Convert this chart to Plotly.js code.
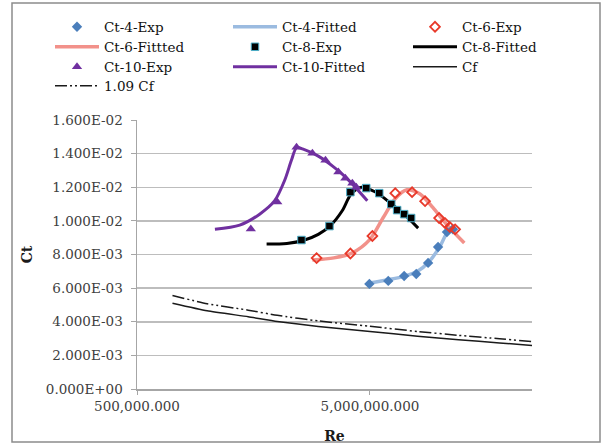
<!DOCTYPE html>
<html>
<head>
<meta charset="utf-8">
<script src="https://cdn.plot.ly/plotly-3.0.1.min.js"></script>
<style>
  html, body { margin: 0; padding: 0; background: #fff; }
  #chart { width: 611px; height: 448px; }
</style>
</head>
<body>
<div id="chart"></div>
<script>
// Thrust coefficient Ct against Reynolds number, measured and fitted, with friction lines.

// Ct-4
const re4Exp = [4.97e6, 5.99e6, 7.01e6, 7.9e6, 8.88e6, 9.8e6, 1.07e7, 1.135e7];
const ct4Exp = [6.25e-3, 6.43e-3, 6.72e-3, 6.84e-3, 7.5e-3, 8.45e-3, 9.34e-3, 9.5e-3];
const re4Fit = [4.97e6, 6.0e6, 7.0e6, 8.0e6, 9.0e6, 1.0e7, 1.07e7, 1.14e7];
const ct4Fit = [6.3e-3, 6.5e-3, 6.7e-3, 7.0e-3, 7.6e-3, 8.5e-3, 9.3e-3, 9.7e-3];

// Ct-6
const re6Exp = [2.95e6, 4.12e6, 5.12e6, 6.42e6, 7.58e6, 8.62e6, 9.9e6, 1.05e7, 1.10e7, 1.16e7];
const ct6Exp = [7.79e-3, 8.06e-3, 9.10e-3, 1.165e-2, 1.171e-2, 1.117e-2, 1.017e-2, 9.87e-3, 9.64e-3, 9.5e-3];
const re6Fit = [2.83e6, 3.5e6, 4.2e6, 5.0e6, 5.7e6, 6.4e6, 7.2e6, 8.2e6, 9.3e6, 1.05e7, 1.27e7];
const ct6Fit = [7.67e-3, 7.8e-3, 8.1e-3, 8.9e-3, 1.02e-2, 1.13e-2, 1.185e-2, 1.16e-2, 1.08e-2, 9.9e-3, 8.68e-3];

// Ct-8
const re8Exp = [2.54e6, 3.35e6, 4.12e6, 4.82e6, 5.48e6, 6.17e6, 6.54e6, 7.01e6, 7.51e6];
const ct8Exp = [8.86e-3, 9.69e-3, 1.171e-2, 1.195e-2, 1.165e-2, 1.10e-2, 1.064e-2, 1.04e-2, 1.017e-2];
const re8Fit = [1.8e6, 2.2e6, 2.6e6, 3.0e6, 3.4e6, 3.8e6, 4.15e6, 4.6e6, 5.3e6, 6.2e6, 7.0e6, 8.05e6];
const ct8Fit = [8.62e-3, 8.66e-3, 8.85e-3, 9.2e-3, 9.75e-3, 1.06e-2, 1.16e-2, 1.2e-2, 1.17e-2, 1.10e-2, 1.04e-2, 9.57e-3];

// Ct-10
const re10Exp = [1.54e6, 2.0e6, 2.42e6, 2.83e6, 3.22e6, 3.66e6, 3.92e6, 4.2e6, 4.37e6];
const ct10Exp = [9.51e-3, 1.112e-2, 1.438e-2, 1.402e-2, 1.36e-2, 1.29e-2, 1.253e-2, 1.224e-2, 1.2e-2];
const re10Fit = [1.08e6, 1.38e6, 1.68e6, 1.95e6, 2.15e6, 2.3e6, 2.42e6, 2.6e6, 3.0e6, 3.5e6, 4.0e6, 4.87e6];
const ct10Fit = [9.5e-3, 9.75e-3, 1.04e-2, 1.12e-2, 1.24e-2, 1.36e-2, 1.435e-2, 1.425e-2, 1.385e-2, 1.32e-2, 1.25e-2, 1.12e-2];

// Friction lines
const reCf = [7.1e5, 1.0e6, 1.5e6, 2.0e6, 3.0e6, 5.0e6, 8.0e6, 1.2e7, 1.8e7, 2.48e7];
const cf = [5.1e-3, 4.65e-3, 4.3e-3, 4.02e-3, 3.72e-3, 3.42e-3, 3.14e-3, 2.93e-3, 2.74e-3, 2.59e-3];
const cf109 = [5.56e-3, 5.07e-3, 4.69e-3, 4.38e-3, 4.05e-3, 3.73e-3, 3.42e-3, 3.19e-3, 2.99e-3, 2.82e-3];

// Axis ticks
const xTickVals = [5e5, 5e6];
const xTickText = ['500,000.000', '5,000,000.000'];
const yTickVals = [0, 0.002, 0.004, 0.006, 0.008, 0.010, 0.012, 0.014, 0.016];
const yTickText = ['0.000E+00', '2.000E-03', '4.000E-03', '6.000E-03', '8.000E-03',
                   '1.000E-02', '1.200E-02', '1.400E-02', '1.600E-02'];

const FONT = 'DejaVu Serif, serif';

// Plot area: x 137..532, y 120..389 (px)
const L = 137, R = 79, T = 120, B = 59, W = 611, H = 448;
const pw = W - L - R, ph = H - T - B;
const px2x = p => (p - L) / pw;
const py2y = p => (H - B - p) / ph;

// Legend grid: three columns, four rows, each entry its own small legend
const legendColX = [50, 228, 408];
const legendRowY = [27, 47, 67, 86];
const legends = {};
let legendCount = 0;
function legendAt(col, row) {
  legendCount += 1;
  const key = legendCount === 1 ? 'legend' : 'legend' + legendCount;
  legends[key] = {
    orientation: 'v', xanchor: 'left', yanchor: 'middle',
    x: px2x(legendColX[col]), y: py2y(legendRowY[row]),
    bgcolor: 'rgba(0,0,0,0)', borderwidth: 0,
    font: { family: FONT, size: 13.5, color: '#111111' },
    itemwidth: 44, itemclick: false
  };
  return key;
}

function fitted(name, x, y, color, width, col, row) {
  return { type: 'scatter', mode: 'lines', name, x, y, legend: legendAt(col, row),
           line: { color, width, shape: 'spline', smoothing: 0.8 } };
}
function measured(name, x, y, marker, col, row) {
  return { type: 'scatter', mode: 'markers', name, x, y, legend: legendAt(col, row), marker };
}

const traces = [
  { type: 'scatter', mode: 'lines', name: 'Cf', x: reCf, y: cf, legend: legendAt(2, 2),
    line: { color: '#1a1a1a', width: 1.5, shape: 'spline', smoothing: 0.5 } },
  { type: 'scatter', mode: 'lines', name: '1.09 Cf', x: reCf, y: cf109, legend: legendAt(0, 3),
    line: { color: '#1a1a1a', width: 1.5, shape: 'spline', smoothing: 0.5, dash: '12px,3px,2px,3px,2px,3px' } },
  fitted('Ct-4-Fitted', re4Fit, ct4Fit, '#9bbbe0', 3.5, 1, 0),
  fitted('Ct-6-Fittted', re6Fit, ct6Fit, '#f2918a', 3.5, 0, 1),
  fitted('Ct-8-Fitted', re8Fit, ct8Fit, '#000000', 3, 2, 1),
  fitted('Ct-10-Fitted', re10Fit, ct10Fit, '#7030a0', 3, 1, 2),
  measured('Ct-4-Exp', re4Exp, ct4Exp,
    { symbol: 'diamond', size: 8, color: '#4a7ebb', line: { width: 0 } }, 0, 0),
  measured('Ct-6-Exp', re6Exp, ct6Exp,
    { symbol: 'diamond-open', size: 7.5, color: '#e8392a', line: { width: 1.8, color: '#e8392a' } }, 2, 0),
  measured('Ct-8-Exp', re8Exp, ct8Exp,
    { symbol: 'square', size: 7.5, color: '#000000', line: { width: 1, color: '#4bacc6' } }, 1, 1),
  measured('Ct-10-Exp', re10Exp, ct10Exp,
    { symbol: 'triangle-up', size: 9, color: '#7030a0', line: { width: 0 } }, 0, 2),
];

const layout = Object.assign({
  width: W, height: H,
  margin: { l: L, r: R, t: T, b: B, autoexpand: false },
  paper_bgcolor: '#ffffff', plot_bgcolor: '#ffffff',
  font: { family: FONT, color: '#404040' },
  xaxis: {
    type: 'log', range: [Math.log10(5e5), Math.log10(2.48e7)],
    tickvals: xTickVals, ticktext: xTickText,
    ticks: 'outside', ticklen: 4, tickcolor: '#a6a6a6', tickwidth: 1,
    showline: true, linecolor: '#a6a6a6', linewidth: 1.5,
    showgrid: false, zeroline: false,
    tickfont: { family: FONT, size: 13.5, color: '#404040' },
    title: { text: '<b>Re</b>', font: { family: FONT, size: 14, color: '#1a1a1a' }, standoff: 18 },
    automargin: false
  },
  yaxis: {
    range: [0, 0.016],
    tickvals: yTickVals, ticktext: yTickText,
    ticks: 'outside', ticklen: 5, tickcolor: '#a6a6a6', tickwidth: 1,
    ticklabelstandoff: 5,
    showline: true, linecolor: '#a6a6a6', linewidth: 1.5,
    showgrid: true, gridcolor: '#bdbdbd', gridwidth: 1.5, zeroline: false,
    tickfont: { family: FONT, size: 13.5, color: '#404040' },
    title: { text: '<b>Ct</b>', font: { family: FONT, size: 14, color: '#1a1a1a' }, standoff: 10 },
    automargin: false
  },
  showlegend: true,
  shapes: [{
    type: 'rect', xref: 'paper', yref: 'paper', layer: 'below',
    x0: px2x(12), x1: px2x(600), y0: py2y(442), y1: py2y(3),
    line: { color: '#8c8c8c', width: 1.5 }, fillcolor: 'rgba(0,0,0,0)'
  }]
}, legends);

Plotly.newPlot('chart', traces, layout, { displayModeBar: false, staticPlot: true });
</script>
</body>
</html>
